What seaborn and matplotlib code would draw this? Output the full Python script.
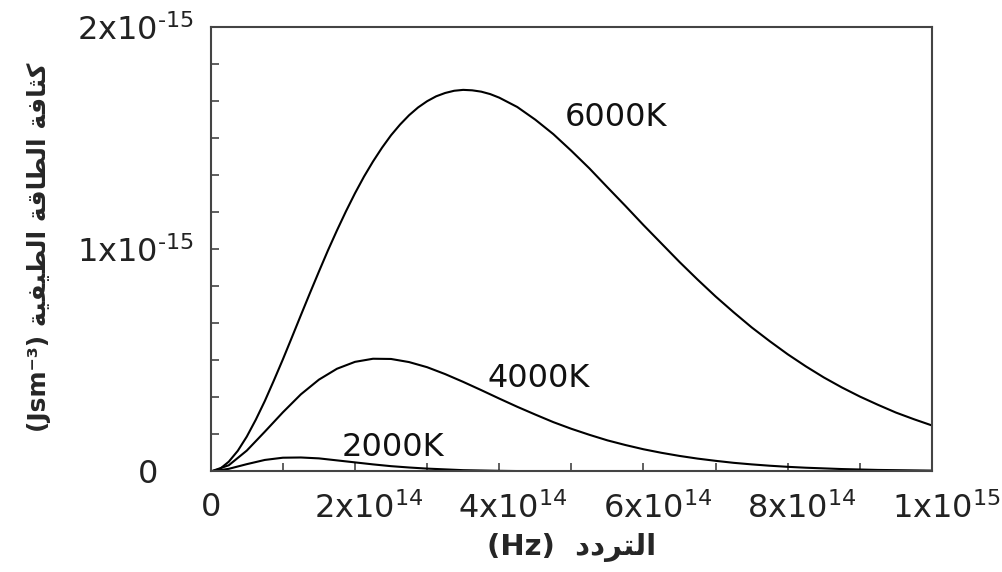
import numpy as np
import pandas as pd
import seaborn as sns
import matplotlib.pyplot as plt
from matplotlib.ticker import FixedLocator
from matplotlib.transforms import ScaledTranslation

# frequency in units of 1e14 Hz, energy density in units of 1e-15 J s m^-3
freq_6000 = [0, 0.125, 0.25, 0.375, 0.5, 0.625, 0.75, 0.875, 1, 1.125, 1.25, 1.375,
             1.5, 1.625, 1.75, 1.875, 2, 2.125, 2.25, 2.375, 2.5, 2.625, 2.75, 2.875,
             3, 3.125, 3.25, 3.375, 3.5, 3.625, 3.75, 3.875, 4, 4.25, 4.5, 4.75,
             5, 5.25, 5.5, 5.75, 6, 6.25, 6.5, 6.75, 7, 7.25, 7.5, 7.75, 8, 8.25,
             8.5, 8.75, 9, 9.25, 9.5, 9.75, 10]
u_6000 = [0, 0.011, 0.044, 0.093, 0.157, 0.233, 0.317, 0.409, 0.504, 0.603, 0.703,
          0.802, 0.899, 0.994, 1.084, 1.170, 1.251, 1.326, 1.394, 1.456, 1.512,
          1.560, 1.602, 1.637, 1.665, 1.687, 1.702, 1.712, 1.716, 1.714, 1.708,
          1.697, 1.681, 1.639, 1.582, 1.517, 1.442, 1.363, 1.278, 1.194, 1.108,
          1.025, 0.942, 0.863, 0.787, 0.716, 0.648, 0.586, 0.527, 0.473, 0.423,
          0.378, 0.337, 0.300, 0.265, 0.235, 0.207]

freq_4000 = [0, 0.25, 0.5, 0.75, 1, 1.25, 1.5, 1.75, 2, 2.25, 2.5, 2.75, 3, 3.25,
             3.5, 3.75, 4, 4.25, 4.5, 4.75, 5, 5.25, 5.5, 5.75, 6, 6.25, 6.5, 6.75,
             7, 7.25, 7.5, 7.75, 8, 8.25, 8.5, 8.75, 9, 9.25, 9.5, 9.75, 10]
u_4000 = [0, 0.028, 0.094, 0.179, 0.266, 0.347, 0.413, 0.462, 0.493, 0.507, 0.506,
          0.492, 0.469, 0.438, 0.403, 0.366, 0.328, 0.291, 0.256, 0.222, 0.192,
          0.165, 0.140, 0.119, 0.100, 0.084, 0.070, 0.058, 0.048, 0.039, 0.032,
          0.026, 0.021, 0.017, 0.014, 0.011, 0.009, 0.007, 0.006, 0.005, 0.004]

freq_2000 = [0, 0.25, 0.5, 0.75, 1, 1.25, 1.5, 1.75, 2, 2.25, 2.5, 2.75, 3, 3.5,
             4, 4.5, 5, 6, 7, 8, 9, 10]
u_2000 = [0, 0.012, 0.033, 0.052, 0.062, 0.063, 0.059, 0.050, 0.041, 0.032, 0.024,
          0.018, 0.013, 0.006, 0.003, 0.001, 0.0005, 0, 0, 0, 0, 0]

curve_names = ['6000K', '4000K', '2000K']
label_pos = [(4.91, 1.59), (3.84, 0.42), (1.82, 0.11)]

xtick_vals = [0, 2, 4, 6, 8, 10]
xtick_labels = ['0', r'$\mathregular{2x10^{14}}$', r'$\mathregular{4x10^{14}}$',
                r'$\mathregular{6x10^{14}}$', r'$\mathregular{8x10^{14}}$',
                r'$\mathregular{1x10^{15}}$']
ytick_vals = [0, 1, 2]
ytick_labels = ['0', r'$\mathregular{1x10^{\text{-}15}}$',
                r'$\mathregular{2x10^{\text{-}15}}$']

# Arabic written in visual order with presentation forms (no shaping engine)
kathafa = '\uFE94\uFED3\uFE8E\uFE9C\uFEDB'
altaqa = '\uFE94\uFED7\uFE8E\uFEC4\uFEDF\uFE8D'
altayfiya = '\uFE94\uFEF4\uFED4\uFEF4\uFEC4\uFEDF\uFE8D'
ylabel = '(Jsm\u207B\u00B3) ' + altayfiya + ' ' + altaqa + ' ' + kathafa
altaraddud = '\uFEA9\uFEA9\uFEAE\uFE98\uFEDF\uFE8D'
xlabel = '(Hz)  ' + altaraddud

df = pd.concat([
    pd.DataFrame({'freq': freq_6000, 'u': u_6000, 'T': '6000K'}),
    pd.DataFrame({'freq': freq_4000, 'u': u_4000, 'T': '4000K'}),
    pd.DataFrame({'freq': freq_2000, 'u': u_2000, 'T': '2000K'}),
])

sns.set_style('ticks')
plt.rcParams['font.family'] = ['DejaVu Sans']
plt.rcParams['mathtext.default'] = 'regular'
plt.rcParams['mathtext.fontset'] = 'dejavusans'

fig = plt.figure(figsize=(10.03, 5.72), dpi=100)
ax = fig.add_axes([0.2101, 0.1757, 0.7191, 0.7776])

sns.lineplot(data=df, x='freq', y='u', hue='T', palette=['black'] * 3,
             legend=False, linewidth=1.5, sort=False, ax=ax)

for name, (lx, ly) in zip(curve_names, label_pos):
    ax.text(lx, ly, name, fontsize=23, ha='left', va='center', color='#111111')

ax.set_xlim(0, 10)
ax.set_ylim(0, 2)
ax.set_xticks(xtick_vals)
ax.set_xticklabels(xtick_labels)
ax.set_yticks(ytick_vals)
ax.set_yticklabels(ytick_labels, ha='right')
ax.xaxis.set_minor_locator(FixedLocator(np.arange(1, 10, 2)))
ax.yaxis.set_minor_locator(FixedLocator([k / 6 for k in range(1, 12) if k != 6]))
ax.tick_params(which='both', direction='in', length=6, width=1.2, color='#444444',
               labelsize=23, labelcolor='#222222')
ax.tick_params(axis='x', pad=15)
ax.tick_params(axis='y', pad=38)

# the exponent hangs past the tick: centre / right-align the mantissa only
for lab in ax.get_xticklabels()[1:]:
    lab.set_transform(lab.get_transform() + ScaledTranslation(0.14, 0, fig.dpi_scale_trans))
for lab in ax.get_yticklabels()[1:]:
    lab.set_transform(lab.get_transform() + ScaledTranslation(0.36, 0, fig.dpi_scale_trans))

for sp in ax.spines.values():
    sp.set_visible(True)
    sp.set_color('#444444')
    sp.set_linewidth(1.5)

ax.set_xlabel(xlabel, fontsize=21, fontweight='bold', labelpad=6)
ax.set_ylabel(ylabel, fontsize=18, fontweight='bold')
ax.yaxis.set_label_coords(-0.222, 0.505)

fig.savefig('out.png', dpi=100)
